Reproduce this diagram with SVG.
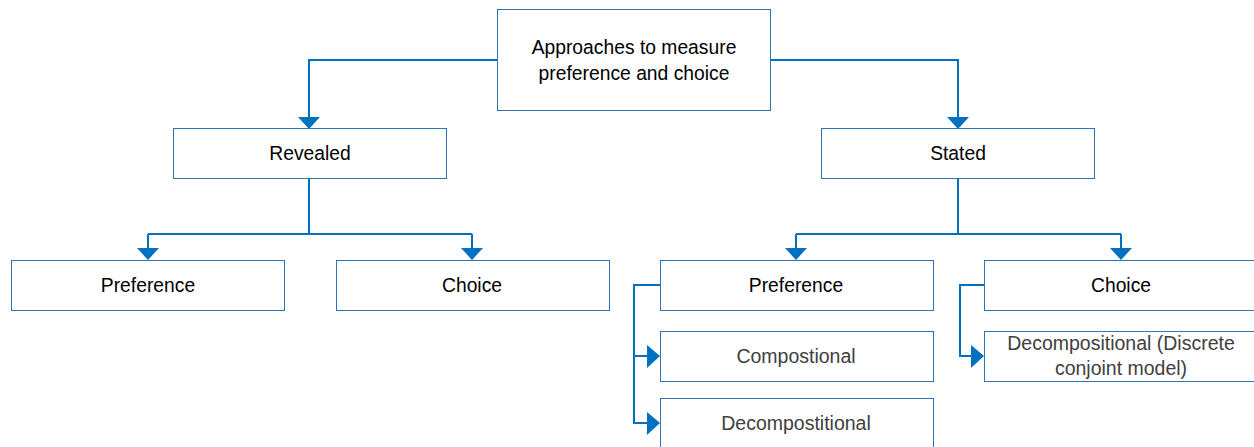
<svg xmlns="http://www.w3.org/2000/svg" width="1254" height="447" viewBox="0 0 1254 447">
<style>
.box{fill:#fff;stroke:#2E75B6;stroke-width:1}
.t{font-family:"Liberation Sans",Arial,sans-serif;font-size:19.3px;fill:#000;text-anchor:middle;dominant-baseline:central}
.l{font-family:"Liberation Sans",Arial,sans-serif;font-size:19.5px;fill:#404040;text-anchor:middle;dominant-baseline:central}
.c{fill:none;stroke:#0070C0;stroke-width:2}
.ah{fill:#0070C0}
</style>
<rect width="1254" height="447" fill="#fff"/>
<g id="connectors">
<path class="c" d="M497,60 H309 V118"/>
<path class="c" d="M770,60 H958 V118"/>
<path class="c" d="M309,178 V234 M148,234 H472 M148,234 V250 M472,234 V250"/>
<path class="c" d="M958,178 V234 M796,234 H1121 M796,234 V250 M1121,234 V250"/>
<path class="c" d="M660,285 H634 V423 H650 M634,356 H650"/>
<path class="c" d="M984,285 H960 V356 H974"/>
<polygon class="ah" points="298,117 320,117 309,129"/>
<polygon class="ah" points="947,117 969,117 958,129"/>
<polygon class="ah" points="137,248 159,248 148,260"/>
<polygon class="ah" points="461,248 483,248 472,260"/>
<polygon class="ah" points="785,248 807,248 796,260"/>
<polygon class="ah" points="1110,248 1132,248 1121,260"/>
<polygon class="ah" points="647,345 647,368 660,356"/>
<polygon class="ah" points="647,412 647,435 660,423"/>
<polygon class="ah" points="971,345 971,368 984,356"/>
</g>
<g id="root"><rect class="box" x="497.5" y="9.5" width="273" height="101"/><text class="t" x="634" y="47">Approaches to measure</text><text class="t" x="634" y="73">preference and choice</text></g>
<g id="revealed"><rect class="box" x="173.5" y="128.5" width="273" height="50"/><text class="t" x="310" y="153">Revealed</text></g>
<g id="stated"><rect class="box" x="821.5" y="128.5" width="273" height="50"/><text class="t" x="958" y="153">Stated</text></g>
<g id="rev-pref"><rect class="box" x="11.5" y="260.5" width="273" height="50"/><text class="t" x="148" y="285">Preference</text></g>
<g id="rev-choice"><rect class="box" x="336.5" y="260.5" width="273" height="50"/><text class="t" x="472" y="285">Choice</text></g>
<g id="st-pref"><rect class="box" x="660.5" y="260.5" width="273" height="50"/><text class="t" x="796" y="285">Preference</text></g>
<g id="st-choice"><rect class="box" x="984.5" y="260.5" width="273" height="50"/><text class="t" x="1121" y="285">Choice</text></g>
<g id="compostional"><rect class="box" x="660.5" y="331.5" width="273" height="50"/><text class="l" x="796" y="356">Compostional</text></g>
<g id="decompostitional"><rect class="box" x="660.5" y="398.5" width="273" height="50"/><text class="l" x="796" y="423">Decompostitional</text></g>
<g id="decompositional"><rect class="box" x="984.5" y="331.5" width="273" height="50"/><text class="l" x="1121" y="343">Decompositional (Discrete</text><text class="l" x="1121" y="368">conjoint model)</text></g>
</svg>
